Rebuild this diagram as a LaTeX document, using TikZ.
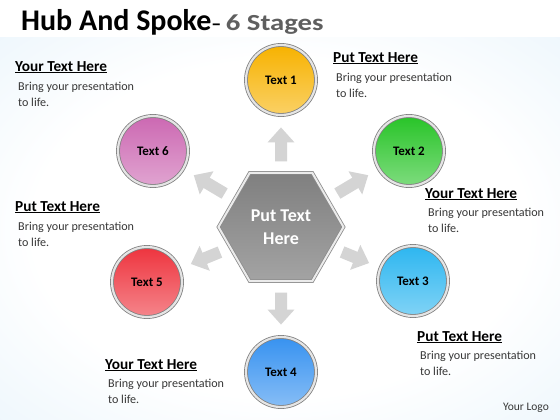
\documentclass[tikz,border=0pt]{standalone}
\usepackage{fontspec}
\setmainfont{Carlito}
\usepackage{xcolor}
\usepackage{tikz}
\usetikzlibrary{shapes.geometric, arrows.meta, positioning, calc}
\definecolor{bgblue}{RGB}{196, 228, 247}
\definecolor{bgpale}{RGB}{222, 239, 250}
\definecolor{arrowgray}{RGB}{212, 212, 212}
\definecolor{stageyellow}{RGB}{247, 178, 0}
\definecolor{stagegreen}{RGB}{40, 196, 40}
\definecolor{stagecyan}{RGB}{45, 182, 240}
\definecolor{stageblue}{RGB}{55, 146, 240}
\definecolor{stagered}{RGB}{238, 52, 62}
\definecolor{stagepink}{RGB}{204, 104, 178}
\definecolor{titlegray}{RGB}{95, 95, 95}
\definecolor{bodygray}{RGB}{55, 55, 55}
\pgfdeclareradialshading{backglow}{\pgfpoint{0bp}{0bp}}{color(0bp)=(white); color(22bp)=(white);
  color(50bp)=(bgpale); color(64bp)=(bgblue); color(80bp)=(bgblue)}

\tikzset{
  stage/.style={circle, minimum size=70pt, inner sep=0pt, draw=black!50, line width=0.8pt,
    double=black!10, double distance=2.2pt, font=\bfseries\fontsize{13}{15}\selectfont},
  hub/.style={regular polygon, regular polygon sides=6, minimum size=125pt, inner sep=0pt,
    draw=black!45, line width=0.8pt, double=black!8, double distance=2pt,
    top color=black!50, bottom color=black!36, text=white, align=center,
    font=\bfseries\fontsize{18}{23}\selectfont},
  spoke/.style={line width=12pt, arrowgray, -{Triangle[width=26pt,length=15pt]},
    shorten <=11pt, shorten >=12pt},
  head/.style={anchor=north west, inner sep=0pt, font=\bfseries\fontsize{15.3}{17}\selectfont},
  body/.style={anchor=north west, inner sep=0pt, align=left, text=bodygray,
    font=\fontsize{12.1}{16}\selectfont}
}

\begin{document}
\begin{tikzpicture}[x=1pt, y=-1pt]
    \useasboundingbox (0,0) rectangle (560,420);

    % background
    \fill[white] (0,0) rectangle (560,420);
    \shade[shading=backglow] (0,38) rectangle (560,420);

    % title
    \node[anchor=base west, inner sep=0pt] (title) at (21,31)
        {\bfseries\fontsize{30}{32}\selectfont Hub And Spoke\fontsize{20}{22}\selectfont{}–
         \scalebox{1.25}[1]{\fontsize{23}{24}\selectfont\textcolor{titlegray}{6 Stages}}};

    % hub and stages
    \node[hub] (hub) at (281,227) {Put Text\\Here};
    \foreach \name/\x/\y/\col/\lbl in {t1/281/80/stageyellow/Text 1, t2/409/151/stagegreen/Text 2,
        t3/413/281/stagecyan/Text 3, t4/281/372/stageblue/Text 4,
        t5/147/282/stagered/Text 5, t6/153/151/stagepink/Text 6} {
        \node[stage, top color=\col, bottom color=\col!60!white] (\name) at (\x,\y) {\lbl};
    }

    % spokes
    \foreach \name in {t1,t2,t3,t4,t5,t6}
        \draw[spoke] (hub) -- (\name);

    % text blocks
    \node[head] (h1) at (15,61) {\underline{Your Text Here}};
    \node[body] (b1) at (18,82) {Bring your presentation\\to life.};
    \node[head] (h2) at (333,52) {\underline{Put Text Here}};
    \node[body] (b2) at (336,73) {Bring your presentation\\to life.};
    \node[head] (h3) at (425,188) {\underline{Your Text Here}};
    \node[body] (b3) at (428,208) {Bring your presentation\\to life.};
    \node[head] (h4) at (15,201) {\underline{Put Text Here}};
    \node[body] (b4) at (18,222) {Bring your presentation\\to life.};
    \node[head] (h5) at (417,331) {\underline{Put Text Here}};
    \node[body] (b5) at (420,351) {Bring your presentation\\to life.};
    \node[head] (h6) at (105,359) {\underline{Your Text Here}};
    \node[body] (b6) at (108,379) {Bring your presentation\\to life.};

    \node[font=\fontsize{11.5}{13}\selectfont, text=bodygray] (logo) at (526,408) {Your Logo};
\end{tikzpicture}
\end{document}
